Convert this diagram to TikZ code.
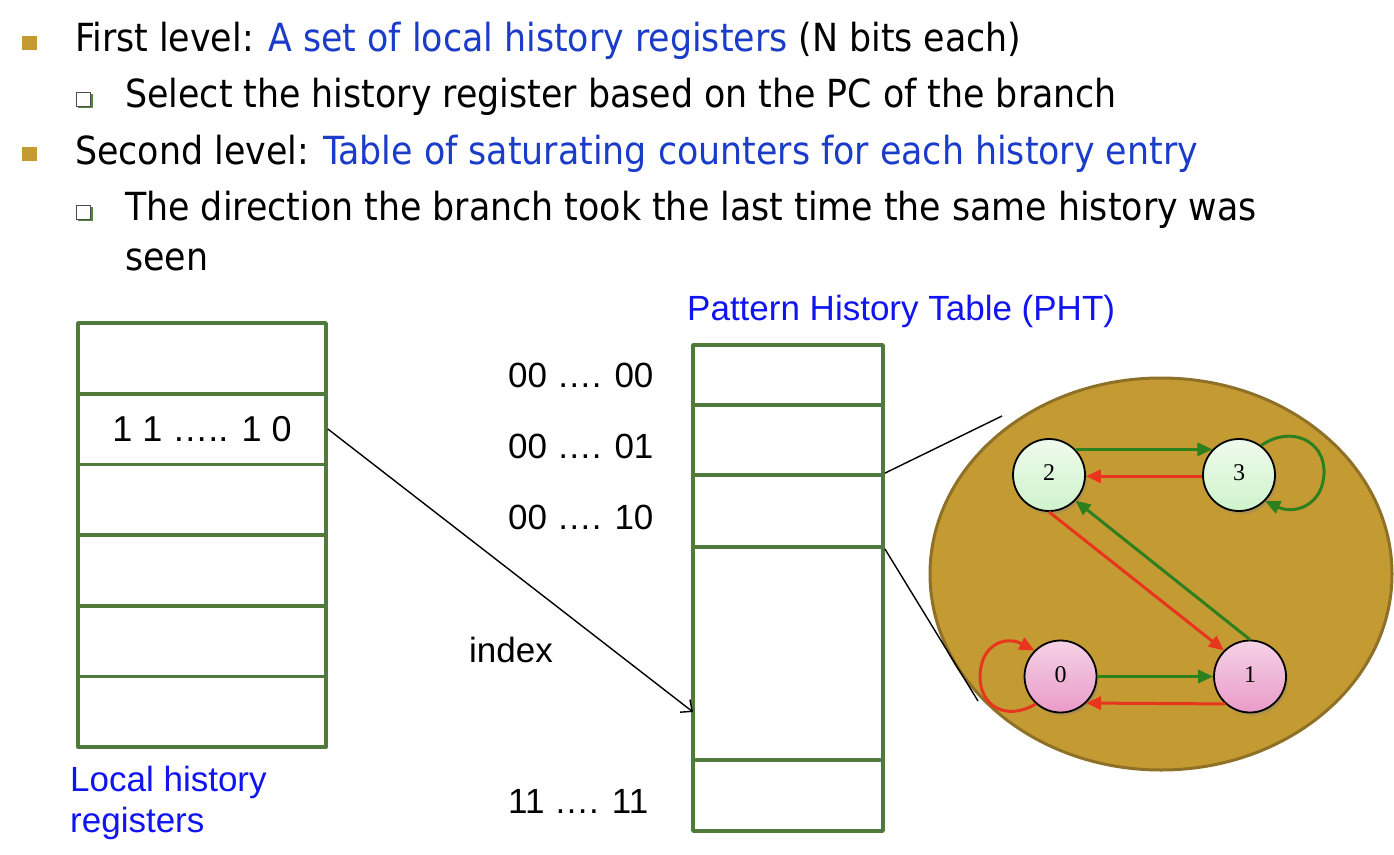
\documentclass[tikz,border=0pt]{standalone}
\usepackage{fontspec}
\newfontfamily\mainf{DejaVu Sans Condensed}
\newfontfamily\labf{Liberation Sans}
\newfontfamily\numf{Liberation Serif}
\usetikzlibrary{arrows.meta,shadows,shapes.geometric}
\definecolor{gold}{HTML}{C49A33}
\definecolor{goldedge}{HTML}{8E7027}
\definecolor{tgreen}{HTML}{507A3C}
\definecolor{tblue}{HTML}{1A3CC8}
\definecolor{lblue}{HTML}{0F14F0}
\definecolor{agreen}{HTML}{2E7F1E}
\definecolor{ared}{HTML}{E8361E}
\definecolor{mint}{HTML}{CFF3CB}
\definecolor{pinkn}{HTML}{E99BC8}
\definecolor{sqgreen}{HTML}{4E8A3A}
\tikzset{
  mtext/.style={inner sep=0, anchor=base west, font=\mainf\fontsize{38.7}{46}\selectfont},
  lab/.style={inner sep=0, anchor=base west, font=\labf\fontsize{35}{40}\selectfont},
  cell/.style={draw=tgreen, line width=3.7pt, minimum width=248pt, minimum height=70.7pt, inner sep=0, line join=round},
  phtcell/.style={draw=tgreen, line width=3.7pt, minimum width=190pt, inner sep=0, line join=round},
  st/.style={circle, draw=black, line width=1.8pt, minimum size=72pt, inner sep=0,
    font=\numf\fontsize{24}{26}\selectfont,
    drop shadow={opacity=0.35, shadow xshift=2pt, shadow yshift=-3pt}},
  gnode/.style={top color=mint!35!white, bottom color=mint},
  pnode/.style={top color=pinkn!45!white, bottom color=pinkn},
  ag/.style={draw=agreen, line width=3pt, -{Triangle[length=15pt,width=13pt]}},
  ar/.style={draw=ared, line width=3pt, -{Triangle[length=15pt,width=13pt]}},
  thin/.style={draw=black, line width=1.4pt}
}
\begin{document}
\begin{tikzpicture}[x=1pt, y=-1pt]
\useasboundingbox (0,0) rectangle (1394,854);
% bullets
\fill[gold] (22,36) rectangle (37,50);
\fill[gold] (22,147) rectangle (37,161);
\fill[sqgreen] (78,94) rectangle (93,108);
\draw[fill=white, draw=black!70, line width=1pt] (76,92) rectangle (90,106);
\fill[sqgreen] (78,207) rectangle (93,221);
\draw[fill=white, draw=black!70, line width=1pt] (76,205) rectangle (90,219);
% bullet texts
\node[mtext] (t1) at (75,51.7) {First level: \textcolor{tblue}{A set of local history registers} (N bits each)};
\node[mtext] (t2) at (125,107.7) {Select the history register based on the PC of the branch};
\node[mtext] (t3) at (75,164) {Second level: \textcolor{tblue}{Table of saturating counters for each history entry}};
\node[mtext] (t4) at (125,220.7) {The direction the branch took the last time the same history was};
\node[mtext] (t5) at (125,270) {seen};
% local history table
\node[cell] (L1) at (202,358.3) {};
\node[cell, font=\labf\fontsize{36}{40}\selectfont] (L2) at (202,429) {1 1 ….. 1 0};
\node[cell] (L3) at (202,499.7) {};
\node[cell] (L4) at (202,570.3) {};
\node[cell] (L5) at (202,641) {};
\node[cell] (L6) at (202,711.7) {};
\node[lab, text=lblue] (lh1) at (70,791.7) {Local history};
\node[lab, text=lblue] (lh2) at (70,832.7) {registers};
% PHT
\node[lab, text=lblue] (pht) at (687,320) {Pattern History Table (PHT)};
\node[phtcell, minimum height=60pt] (P1) at (788,375) {};
\node[phtcell, minimum height=70pt] (P2) at (788,440) {};
\node[phtcell, minimum height=72pt] (P3) at (788,511) {};
\node[phtcell, minimum height=213pt] (P4) at (788,653.5) {};
\node[phtcell, minimum height=71pt] (P5) at (788,795.5) {};
\node[lab] (r0) at (508,387) {00 …. 00};
\node[lab] (r1) at (508,458) {00 …. 01};
\node[lab] (r2) at (508,529) {00 …. 10};
\node[lab] (ix) at (469,662) {index};
\node[lab] (rN) at (508,813) {11 …. 11};
% index arrow
\coordinate (idx) at (693,712);
\draw[thin, -{Straight Barb[length=9pt,width=16pt]}] (L2.east) -- (idx);
% state machine
\node[ellipse, draw=goldedge, fill=gold, line width=3pt, minimum width=462pt, minimum height=392pt, inner sep=0] (ell) at (1161,574) {};
\coordinate (z1) at (1002,416);
\coordinate (z2) at (978,701);
\draw[thin] (P3.north east) -- (z1);
\draw[thin] (P3.south east) -- (z2);
\node[st, gnode] (n2) at (1049,475) {\raisebox{4pt}{2}};
\node[st, gnode] (n3) at (1239,475) {\raisebox{4pt}{3}};
\node[st, pnode] (n0) at (1060.5,676.5) {\raisebox{4pt}{0}};
\node[st, pnode] (n1) at (1250,676.5) {\raisebox{4pt}{1}};
\draw[ag] (n2.44) -- (n3.136);
\draw[ar] (n3.182) -- (n2.-2);
\draw[ag] (n3.53) .. controls (1290,425) and (1325,440) .. (1324,473) .. controls (1323,505) and (1295,515) .. (n3.-45);
\draw[ar] (n2.270) -- (n1.135);
\draw[ag] (n1.90) -- (n2.-44);
\draw[ag] (n0.0) -- (n1.180);
\draw[ar] (n1.228) -- (n0.-46);
\draw[ar] (n0.228) .. controls (1005,722) and (980,705) .. (980,677) .. controls (980,645) and (1005,635) .. (n0.135);
\end{tikzpicture}
\end{document}
